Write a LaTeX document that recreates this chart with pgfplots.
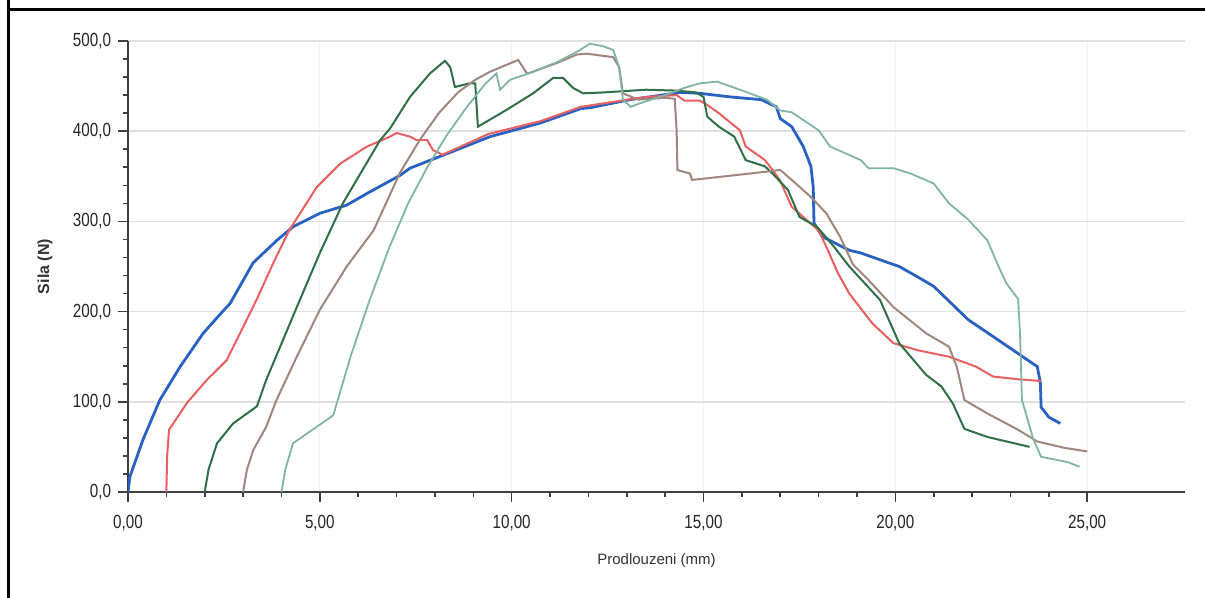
\documentclass[border=0pt]{standalone}
\usepackage{pgfplots}
\pgfplotsset{compat=1.18}
\usepackage{fontspec}
\setmainfont{Liberation Sans}
\newfontfamily\narrow{Liberation Sans}[FakeStretch=0.8]
\definecolor{cblue}{RGB}{42,98,196}
\definecolor{cred}{RGB}{234,96,96}
\definecolor{cdgreen}{RGB}{47,112,71}
\definecolor{cbrown}{RGB}{160,135,125}
\definecolor{cteal}{RGB}{128,180,164}
\begin{document}
\begin{tikzpicture}
\useasboundingbox (0,0) rectangle (602.5bp,299bp);
\fill[white] (0,0) rectangle (602.5bp,299bp);
\draw[line width=1.5bp] (4bp,0) -- (4bp,299bp);
\draw[line width=1.5bp] (4bp,294bp) -- (602.5bp,294bp);
\begin{axis}[
  at={(64bp,53bp)}, anchor=south west,
  scale only axis, width=528.5bp, height=225.5bp,
  xmin=0, xmax=27.55, ymin=0, ymax=500,
  axis lines*=left,
  axis line style={-, line width=0.9bp, black!75},
  tick align=outside,
  major tick length=5bp, minor tick length=2.5bp,
  tick style={black!75, line width=0.8bp},
  xtick={0,5,10,15,20,25},
  xticklabels={{0,00},{5,00},{10,00},{15,00},{20,00},{25,00}},
  ytick={0,100,200,300,400,500},
  yticklabels={{0,0},{100,0},{200,0},{300,0},{400,0},{500,0}},
  minor x tick num=4, minor y tick num=4,
  ymajorgrids, xmajorgrids,
  y grid style={black!12, line width=0.8bp},
  x grid style={black!5, line width=0.6bp},
  ticklabel style={font=\fontsize{9.5bp}{11bp}\selectfont\narrow, text=black!85},
  xticklabel style={yshift=-3bp},
  xlabel={Prodlouzeni (mm)},
  ylabel={Sila (N)},
  xlabel style={at={(axis description cs:0.5,-0.153)}, anchor=center, font=\fontsize{7.5bp}{9bp}\selectfont, text=black!80},
  ylabel style={at={(axis description cs:-0.0785,0.5)}, anchor=center, font=\fontsize{8bp}{9bp}\selectfont\bfseries, text=black!80},
]
% blue
\addplot[cblue, line width=1.4bp] coordinates {
(0,0) (0.05,17) (0.39,58) (0.83,102) (1.36,139) (1.96,176) (2.4,197) (2.66,209)
(3.26,254) (3.88,279) (4.3,294) (5.0,309) (5.7,318) (6.23,331) (7.09,351) (7.35,359)
(8.13,372) (9.44,394) (10.74,409) (11.8,425) (12.04,426) (13.09,435) (14.4,443)
(14.9,442) (15.7,438) (16.5,435) (16.9,427) (17.0,414) (17.3,405) (17.6,383)
(17.8,361) (17.86,338) (17.88,298) (18.1,283) (18.8,268) (19.1,265) (20.1,250)
(20.6,238) (21.0,228) (21.9,191) (22.7,168) (23.7,139) (23.78,121) (23.8,94)
(24.0,83) (24.3,76)
};
% red
\addplot[cred, line width=1.0bp] coordinates {
(1.0,0) (1.02,40) (1.07,69) (1.54,99) (2.05,124) (2.57,146) (2.92,176) (3.35,213)
(3.8,255) (4.2,290) (4.92,338) (5.53,364) (6.23,383) (6.83,394) (7.0,398) (7.35,394)
(7.53,390) (7.8,390) (7.95,379) (8.2,374) (9.4,397) (10.74,411) (11.8,427) (13.5,438)
(14.3,440) (14.5,434) (14.9,434) (15.1,429) (15.4,420) (15.95,401) (16.1,383)
(16.6,368) (16.8,357) (17.0,345) (17.3,316) (18.0,290) (18.2,272) (18.5,243)
(18.8,220) (19.4,187) (19.95,165) (20.6,157) (21.4,150) (22.1,139) (22.55,128)
(23.2,125) (23.8,123)
};
% dark green
\addplot[cdgreen, line width=1.0bp] coordinates {
(2.0,0) (2.1,25) (2.32,54) (2.74,76) (3.36,95) (3.6,124) (4.4,205) (5.0,265)
(5.6,320) (6.57,390) (6.83,403) (7.35,438) (7.87,464) (8.26,478) (8.4,471) (8.52,449)
(8.9,453) (9.05,453) (9.12,405) (9.88,424) (10.56,442) (11.08,459) (11.34,459)
(11.6,448) (11.86,442) (12.4,443) (13.5,446) (14.3,445) (14.8,443) (15.0,438)
(15.1,416) (15.4,405) (15.8,394) (16.1,368) (16.6,361) (16.8,353) (17.2,335)
(17.5,305) (17.96,294) (18.4,272) (18.8,250) (19.6,213) (20.1,165) (20.8,130)
(21.2,117) (21.5,98) (21.8,70) (22.4,61) (23.5,50)
};
% brown
\addplot[cbrown, line width=1.0bp] coordinates {
(3.0,0) (3.1,25) (3.27,47) (3.6,72) (3.87,102) (4.4,150) (5.0,202) (5.7,250)
(6.4,290) (7.09,354) (7.6,390) (8.1,420) (8.6,443) (9.05,457) (9.44,466) (10.17,479)
(10.4,464) (10.5,465) (11.2,476) (11.7,485) (11.95,486) (12.3,484) (12.65,482)
(12.8,471) (12.9,442) (13.3,435) (14.0,437) (14.25,436) (14.3,400) (14.32,357)
(14.65,353) (14.7,346) (15.35,349) (16.2,353) (16.6,355) (17.0,357) (17.3,346)
(17.8,327) (18.2,309) (18.56,283) (18.9,252) (19.3,235) (19.95,205) (20.8,176)
(21.4,161) (21.6,139) (21.8,102) (22.4,87) (23.2,69) (23.7,56) (24.4,49) (25.0,45)
};
% light teal
\addplot[cteal, line width=0.9bp] coordinates {
(4.0,0) (4.1,25) (4.3,54) (5.35,85) (5.8,150) (6.3,213) (6.8,270) (7.3,320)
(7.8,360) (8.3,395) (8.8,425) (9.3,452) (9.6,464) (9.7,446) (9.96,457) (10.5,465)
(11.2,477) (11.7,488) (12.04,497) (12.4,494) (12.65,490) (12.8,471) (12.9,435)
(13.1,427) (13.35,431) (14.0,440) (14.5,448) (14.9,453) (15.35,455) (15.95,446)
(16.65,435) (17.0,423) (17.3,421) (18.0,401) (18.3,383) (19.1,368) (19.3,359)
(19.95,359) (20.4,353) (21.0,342) (21.4,320) (21.9,302) (22.4,279) (22.7,249)
(22.9,231) (23.2,214) (23.25,176) (23.3,102) (23.6,58) (23.8,39) (24.5,33) (24.8,28)
};
\end{axis}
\end{tikzpicture}
\end{document}
